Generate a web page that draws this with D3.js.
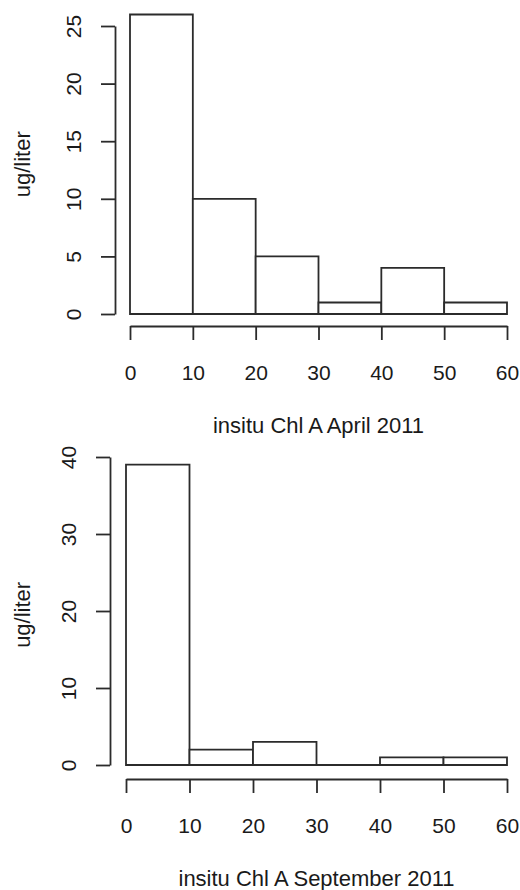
<!DOCTYPE html>
<html>
<head>
<meta charset="utf-8">
<script src="https://cdn.jsdelivr.net/npm/d3@7"></script>
<style>
  body { margin: 0; background: #fff; }
  svg text { font-family: "Liberation Sans", Arial, sans-serif; fill: #1a1a1a; }
</style>
</head>
<body>
<div id="chart"></div>
<script>
// bin edges shared by both histograms
const binEdges = [0, 10, 20, 30, 40, 50, 60];
const aprilCounts = [26, 10, 5, 1, 4, 1];
const septCounts = [39, 2, 3, 0, 1, 1];
const xTicks = [0, 10, 20, 30, 40, 50, 60];
const aprilYTicks = [0, 5, 10, 15, 20, 25];
const septYTicks = [0, 10, 20, 30, 40];
const yLabel = "ug/liter";
const aprilTitle = "insitu Chl A April 2011";
const septTitle = "insitu Chl A September 2011";

const width = 520, height = 890;
const lineColor = "#2b2b2b";
const lineWidth = 1.8;

const svg = d3.select("#chart").append("svg")
    .attr("width", width)
    .attr("height", height);

// each panel: where the data sits on the page
const panels = [
    { counts: aprilCounts, yTicks: aprilYTicks, title: aprilTitle,
      x0: 130, x1: 507, yTop: 26, yBase: 314, yAxisX: 115, xAxisY: 326 },
    { counts: septCounts, yTicks: septYTicks, title: septTitle,
      x0: 126, x1: 507, yTop: 457, yBase: 765, yAxisX: 110, xAxisY: 779 }
];

panels.forEach(p => {
    const bins = p.counts.map((c, i) => ({ x0: binEdges[i], x1: binEdges[i + 1], count: c }));

    const x = d3.scaleLinear()
        .domain([binEdges[0], binEdges[binEdges.length - 1]])
        .range([p.x0, p.x1]);
    const y = d3.scaleLinear()
        .domain([0, d3.max(p.yTicks)])
        .range([p.yBase, p.yTop]);

    // bars as closed paths so empty bins still leave a line on the baseline
    svg.append("g")
        .selectAll("path")
        .data(bins)
        .enter()
        .append("path")
        .attr("d", d => `M${x(d.x0)},${y(0)}V${y(d.count)}H${x(d.x1)}V${y(0)}Z`)
        .attr("fill", "#fff")
        .attr("stroke", lineColor)
        .attr("stroke-width", lineWidth);

    // x axis
    const gx = svg.append("g")
        .attr("transform", `translate(0,${p.xAxisY})`)
        .call(d3.axisBottom(x).tickValues(xTicks).tickSize(14).tickSizeOuter(0).tickFormat(d3.format("d")));
    gx.selectAll("path, line").attr("stroke", lineColor).attr("stroke-width", lineWidth);
    gx.selectAll(".tick text")
        .attr("y", 47)
        .attr("dy", "0.35em")
        .style("font-size", "21px")
        .attr("fill", "#1a1a1a");

    // y axis, labels turned like R does
    const gy = svg.append("g")
        .attr("transform", `translate(${p.yAxisX},0)`)
        .call(d3.axisLeft(y).tickValues(p.yTicks).tickSize(14).tickSizeOuter(0).tickFormat(d3.format("d")));
    gy.selectAll("path, line").attr("stroke", lineColor).attr("stroke-width", lineWidth);
    gy.selectAll(".tick text")
        .attr("x", null)
        .attr("dy", "0.35em")
        .attr("text-anchor", "middle")
        .attr("transform", "translate(-41,0) rotate(-90)")
        .style("font-size", "21px")
        .attr("fill", "#1a1a1a");

    svg.selectAll(".domain").attr("fill", "none");

    // x title
    svg.append("text")
        .attr("x", (p.x0 + p.x1) / 2)
        .attr("y", p.xAxisY + 99)
        .attr("dy", "0.35em")
        .attr("text-anchor", "middle")
        .style("font-size", "22px")
        .text(p.title);

    // y title
    const yMid = y(d3.max(p.counts) / 2);
    svg.append("text")
        .attr("transform", `translate(22,${yMid}) rotate(-90)`)
        .attr("dy", "0.35em")
        .attr("text-anchor", "middle")
        .style("font-size", "22px")
        .text(yLabel);
});
</script>
</body>
</html>
